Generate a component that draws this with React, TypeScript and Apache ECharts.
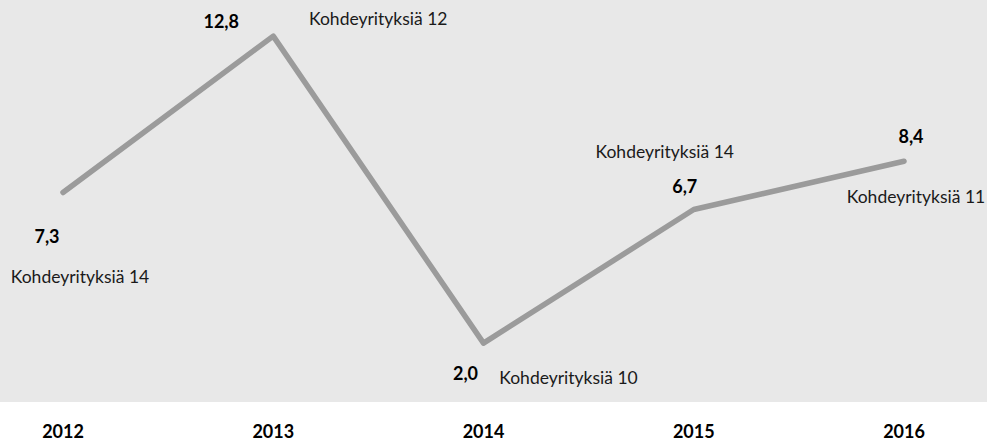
import React, { useEffect, useRef } from "react";
import * as echarts from "echarts";

const years = ["2012", "2013", "2014", "2015", "2016"];
const values = [7.3, 12.8, 2.0, 6.7, 8.4];
const targetCounts = [14, 12, 10, 14, 11];

const valueOffsets: [number, number][] = [[-16, 44], [-52, -15], [-18, 30], [-9, -24], [7, -25]];
const countOffsets: [number, number][] = [[17, 84], [105, -18], [85, 34], [-29, -58], [12, 35]];

export default function App() {
  const ref = useRef<HTMLDivElement>(null);
  useEffect(() => {
    document.body.style.margin = "0";
    const chart = echarts.init(ref.current!, null, { renderer: "svg" });
    const fmt = (v: number) => v.toFixed(1).replace(".", ",");
    chart.setOption({
      animation: false,
      graphic: [
        {
          type: "rect",
          z: -100,
          silent: true,
          shape: { x: 0, y: 0, width: 987, height: 402 },
          style: { fill: "#e8e8e8" },
        },
      ],
      grid: { left: 63, right: 83, top: 2, bottom: 41, containLabel: false },
      xAxis: {
        type: "category",
        data: years,
        boundaryGap: false,
        axisLine: { show: false },
        axisTick: { show: false },
        axisLabel: {
          margin: 22,
          fontFamily: "Lato",
          fontWeight: "bold",
          fontSize: 18,
          color: "#000",
        },
      },
      yAxis: {
        type: "value",
        min: 0,
        max: 14,
        show: false,
        splitLine: { show: false },
      },
      series: [
        {
          type: "line",
          data: values.map((v, i) => ({
            value: v,
            label: { offset: valueOffsets[i] },
          })),
          symbol: "circle",
          symbolSize: 1,
          showSymbol: true,
          itemStyle: { color: "rgba(0,0,0,0)" },
          lineStyle: { color: "#9b9b9b", width: 5.5, cap: "round", join: "round" },
          label: {
            show: true,
            position: "inside",
            align: "center",
            verticalAlign: "middle",
            fontFamily: "Lato",
            fontWeight: "bold",
            fontSize: 18,
            color: "#000",
            formatter: (p: any) => fmt(p.value),
          },
          z: 3,
        },
        {
          type: "line",
          data: values.map((v, i) => ({
            value: v,
            label: { offset: countOffsets[i] },
          })),
          symbol: "circle",
          symbolSize: 1,
          showSymbol: true,
          itemStyle: { color: "rgba(0,0,0,0)" },
          lineStyle: { width: 0, color: "rgba(0,0,0,0)" },
          label: {
            show: true,
            position: "inside",
            align: "center",
            verticalAlign: "middle",
            fontFamily: "Lato",
            fontSize: 17.5,
            color: "#1a1a1a",
            formatter: (p: any) => "Kohdeyrityksiä " + targetCounts[p.dataIndex],
          },
          z: 4,
        },
      ],
    });
    return () => chart.dispose();
  }, []);
  return <div ref={ref} style={{ width: 987, height: 441 }} />;
}
